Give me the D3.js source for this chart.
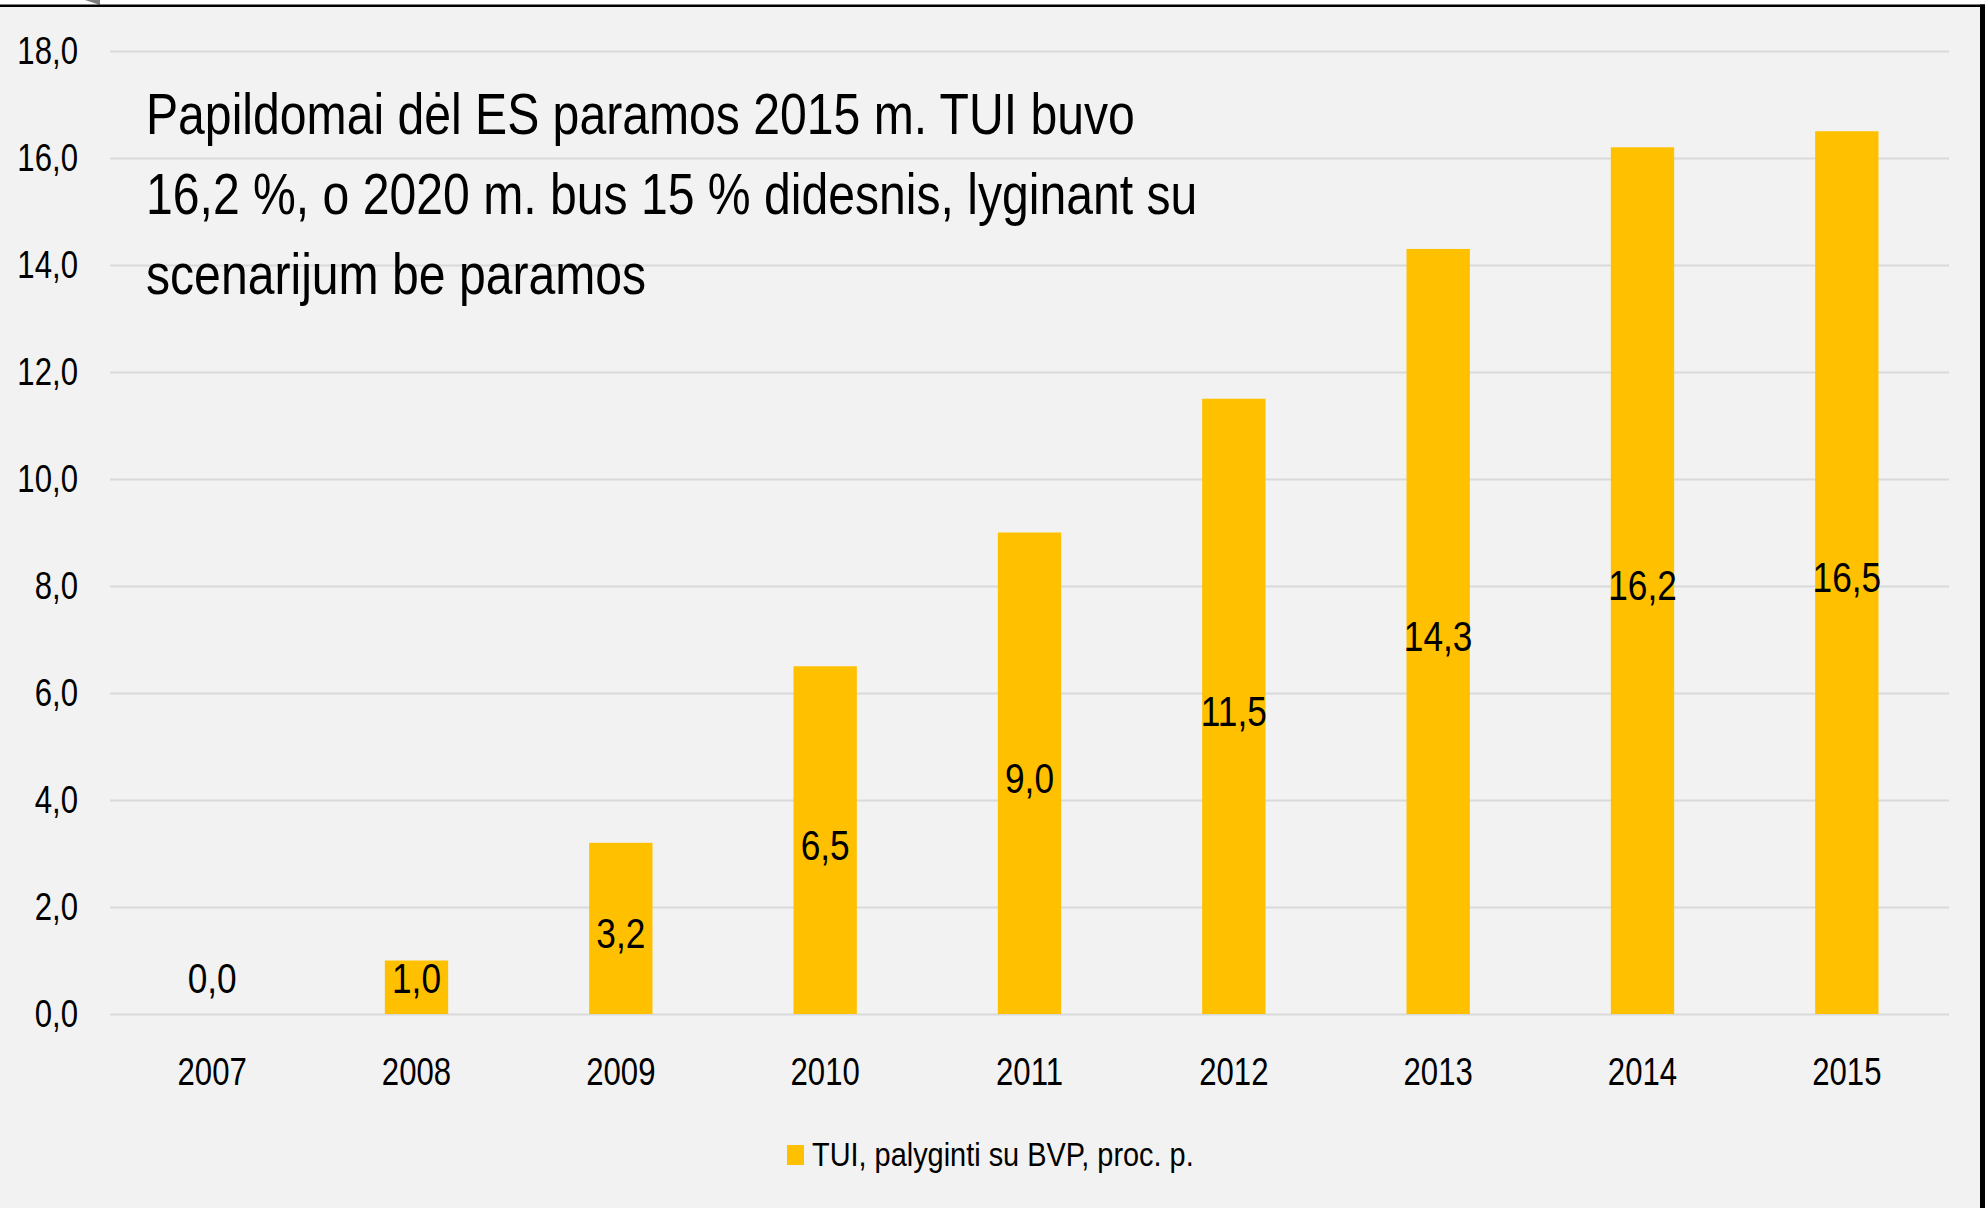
<!DOCTYPE html>
<html>
<head>
<meta charset="utf-8">
<script src="https://cdn.jsdelivr.net/npm/d3@7"></script>
<style>
  html, body { margin: 0; padding: 0; background: #ffffff; }
  svg { display: block; }
  text { font-family: "Liberation Sans", Arial, sans-serif; fill: #000; }
</style>
</head>
<body>
<svg id="chart" width="1985" height="1208"></svg>
<script>
// ---- data ----
const categories = ["2007", "2008", "2009", "2010", "2011", "2012", "2013", "2014", "2015"];
const values = [0.0, 1.0, 3.2, 6.5, 9.0, 11.5, 14.3, 16.2, 16.5];
const yTicks = [0, 2, 4, 6, 8, 10, 12, 14, 16, 18];
const seriesName = "TUI, palyginti su BVP, proc. p.";
const titleLines = [
  "Papildomai dėl ES paramos 2015 m. TUI buvo",
  "16,2 %, o 2020 m. bus 15 % didesnis, lyginant su",
  "scenarijum be paramos"
];

const W = 1985, H = 1208;
const barColor = "#FFC000";
const SX = 0.82; // horizontal condensing of text (narrow face look)
const fmt = v => d3.format(".1f")(v).replace(".", ",");

const svg = d3.select("#chart");

// background / frame
svg.append("rect").attr("x", 0).attr("y", 0).attr("width", W).attr("height", H).attr("fill", "#ffffff");
svg.append("rect").attr("x", 0).attr("y", 6).attr("width", 1980).attr("height", H - 6).attr("fill", "#f2f2f2");
svg.append("path").attr("d", "M85,0 L100,0 L100,5 Z").attr("fill", "#7f7f7f");
svg.append("rect").attr("x", 0).attr("y", 4.5).attr("width", 1985).attr("height", 2.5).attr("fill", "#000");
svg.append("rect").attr("x", 1980).attr("y", 4.5).attr("width", 5).attr("height", H).attr("fill", "#000");

// scales
const plotLeft = 110, plotRight = 1949;
const y = d3.scaleLinear().domain([0, 18]).range([1014, 51]);
const x = d3.scaleBand().domain(categories).range([plotLeft, plotRight]).paddingInner(0.69).paddingOuter(0.345);

// gridlines + y labels
const yAxis = d3.axisLeft(y).tickValues(yTicks).tickSize(-(plotRight - plotLeft)).tickFormat(fmt);
const gy = svg.append("g").attr("transform", `translate(${plotLeft},0)`).call(yAxis);
gy.select(".domain").remove();
gy.selectAll(".tick line").attr("stroke", "#d9d9d9").attr("stroke-width", 2);
gy.selectAll(".tick text")
  .attr("x", null)
  .attr("transform", `translate(-32,0) scale(${SX},1)`)
  .attr("font-size", 38).attr("fill", "#000")
  .attr("font-family", "'Liberation Sans', Arial, sans-serif");

// x axis labels
const xAxis = d3.axisBottom(x).tickSize(0).tickPadding(0);
const gx = svg.append("g").attr("transform", `translate(0,${y(0)})`).call(xAxis);
gx.select(".domain").remove();
gx.selectAll(".tick text")
  .attr("y", null).attr("dy", null)
  .attr("transform", `translate(0,71) scale(${SX},1)`)
  .attr("font-size", 38).attr("fill", "#000")
  .attr("font-family", "'Liberation Sans', Arial, sans-serif");

// bars
svg.append("g").selectAll("rect").data(values).join("rect")
  .attr("x", (d, i) => x(categories[i]))
  .attr("width", x.bandwidth())
  .attr("y", d => y(d))
  .attr("height", d => y(0) - y(d))
  .attr("fill", barColor);

// data labels
svg.append("g").selectAll("text").data(values).join("text")
  .attr("transform", (d, i) => {
    const cx = x(categories[i]) + x.bandwidth() / 2;
    const cy = Math.min(y(d / 2), y(0) - 40) + 4;
    return `translate(${cx},${cy}) scale(${SX},1)`;
  })
  .attr("dy", "0.36em")
  .attr("text-anchor", "middle")
  .attr("font-size", 43)
  .text(d => fmt(d));

// title
svg.append("g").selectAll("text").data(titleLines).join("text")
  .attr("transform", (d, i) => `translate(146,${134 + i * 80}) scale(0.83,1)`)
  .attr("font-size", 58)
  .text(d => d);

// legend
const lg = svg.append("g");
lg.append("rect").attr("x", 787).attr("y", 1145).attr("width", 17).attr("height", 20).attr("fill", barColor);
lg.append("text").attr("transform", `translate(812,1166) scale(0.85,1)`).attr("font-size", 34).text(seriesName);
</script>
</body>
</html>
